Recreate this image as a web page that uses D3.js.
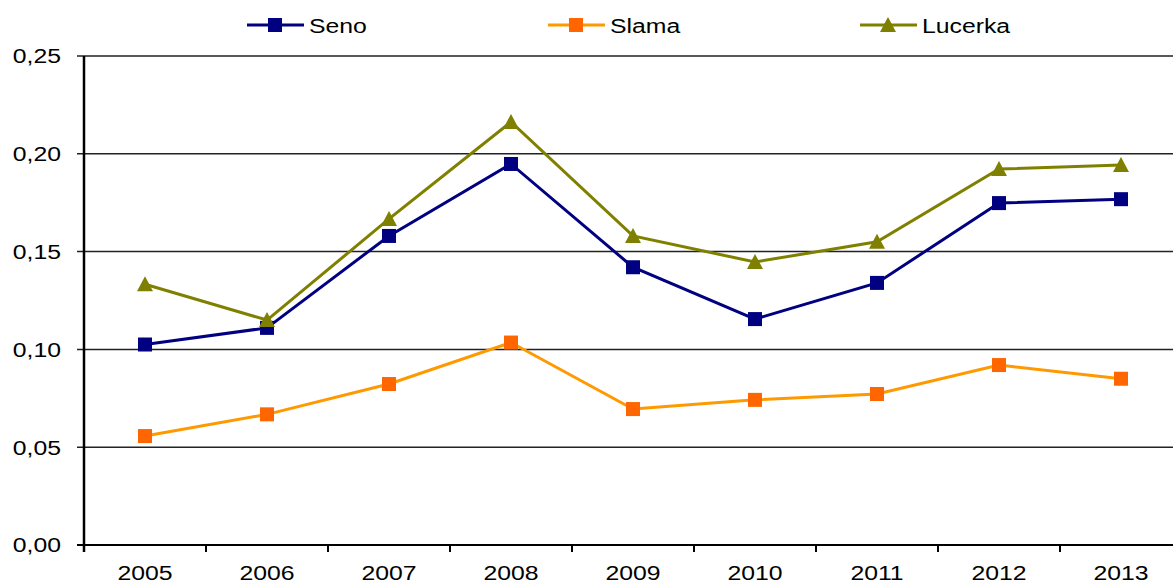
<!DOCTYPE html>
<html>
<head>
<meta charset="utf-8">
<script src="https://cdn.jsdelivr.net/npm/d3@7"></script>
<style>
  body { margin: 0; background: #fff; }
  text { font-family: "Liberation Sans", Arial, sans-serif; fill: #000; }
</style>
</head>
<body>
<div id="chart-container"></div>
<script>
var years = ["2005", "2006", "2007", "2008", "2009", "2010", "2011", "2012", "2013"];
var seno = [0.1025, 0.111, 0.158, 0.1948, 0.142, 0.1155, 0.134, 0.1748, 0.1768];
var slama = [0.0557, 0.0668, 0.0823, 0.1035, 0.0695, 0.0742, 0.0772, 0.092, 0.085];
var lucerka = [0.1333, 0.115, 0.1667, 0.2163, 0.158, 0.1447, 0.155, 0.1922, 0.1943];
var y_ticks = [0, 0.05, 0.10, 0.15, 0.20, 0.25];

var series = [
  {name: "Seno", values: seno, line: "#000080", marker: "#000080", shape: "square"},
  {name: "Slama", values: slama, line: "#FF9900", marker: "#FF6600", shape: "square"},
  {name: "Lucerka", values: lucerka, line: "#808000", marker: "#808000", shape: "triangle"}
];

var svg_width = 1173;
var svg_height = 584;
var plot_left = 84, plot_right = 1182, plot_top = 56, plot_bottom = 545;
var stretch = 1.18;

var svg = d3.select("#chart-container")
  .append("svg")
  .attr("width", svg_width)
  .attr("height", svg_height);

var x = d3.scaleBand()
  .domain(years)
  .range([plot_left, plot_right]);

var y = d3.scaleLinear()
  .domain([0, 0.25])
  .range([plot_bottom, plot_top]);

function fmt(v) { return d3.format(".2f")(v).replace(".", ","); }

// gridlines
svg.selectAll(".grid")
  .data(y_ticks.filter(function(d) { return d > 0; }))
  .enter()
  .append("line")
  .attr("class", "grid")
  .attr("x1", plot_left - 7)
  .attr("x2", svg_width)
  .attr("y1", function(d) { return y(d); })
  .attr("y2", function(d) { return y(d); })
  .attr("stroke", "#222")
  .attr("stroke-width", 1.5);

// y ticks + labels
svg.selectAll(".y-label")
  .data(y_ticks)
  .enter()
  .append("text")
  .attr("class", "y-label")
  .attr("transform", function(d) { return "translate(61," + y(d) + ") scale(" + stretch + ",1)"; })
  .attr("text-anchor", "end")
  .attr("dominant-baseline", "central")
  .attr("font-size", "21px")
  .text(fmt);

// x axis
svg.append("line")
  .attr("x1", plot_left - 7).attr("x2", svg_width)
  .attr("y1", plot_bottom).attr("y2", plot_bottom)
  .attr("stroke", "#000").attr("stroke-width", 2);

svg.selectAll(".x-tick")
  .data(years)
  .enter()
  .append("line")
  .attr("class", "x-tick")
  .attr("x1", function(d) { return x(d); })
  .attr("x2", function(d) { return x(d); })
  .attr("y1", plot_bottom)
  .attr("y2", plot_bottom + 7)
  .attr("stroke", "#000")
  .attr("stroke-width", 2);

svg.selectAll(".x-label")
  .data(years)
  .enter()
  .append("text")
  .attr("class", "x-label")
  .attr("transform", function(d) { return "translate(" + (x(d) + x.bandwidth() / 2) + ",580) scale(" + stretch + ",1)"; })
  .attr("text-anchor", "middle")
  .attr("font-size", "21px")
  .text(function(d) { return d; });

// y axis
svg.append("line")
  .attr("x1", plot_left).attr("x2", plot_left)
  .attr("y1", plot_top).attr("y2", plot_bottom + 7)
  .attr("stroke", "#000").attr("stroke-width", 2.5);

var line = d3.line()
  .x(function(d, i) { return x(years[i]) + x.bandwidth() / 2; })
  .y(function(d) { return y(d); });

function draw_marker(g, s, cx, cy) {
  if (s.shape === "square") {
    g.append("rect")
      .attr("x", cx - 7).attr("y", cy - 7)
      .attr("width", 14).attr("height", 14)
      .attr("fill", s.marker);
  } else {
    g.append("path")
      .attr("d", "M" + cx + "," + (cy - 8) + "L" + (cx + 8) + "," + (cy + 7) + "L" + (cx - 8) + "," + (cy + 7) + "Z")
      .attr("fill", s.marker);
  }
}

series.forEach(function(s) {
  var g = svg.append("g");
  g.append("path")
    .datum(s.values)
    .attr("d", line)
    .attr("fill", "none")
    .attr("stroke", s.line)
    .attr("stroke-width", 3);
  s.values.forEach(function(v, i) {
    draw_marker(g, s, x(years[i]) + x.bandwidth() / 2, y(v));
  });
});

// legend
var legend_x = [247, 548, 860];
series.forEach(function(s, i) {
  var g = svg.append("g");
  var lx = legend_x[i];
  var ly = 25;
  g.append("line")
    .attr("x1", lx).attr("x2", lx + 57)
    .attr("y1", ly).attr("y2", ly)
    .attr("stroke", s.line)
    .attr("stroke-width", 3);
  draw_marker(g, s, lx + 28, ly);
  g.append("text")
    .attr("transform", "translate(" + (lx + 62) + "," + (ly + 7.5) + ") scale(" + stretch + ",1)")
    .attr("font-size", "21px")
    .text(s.name);
});
</script>
</body>
</html>
